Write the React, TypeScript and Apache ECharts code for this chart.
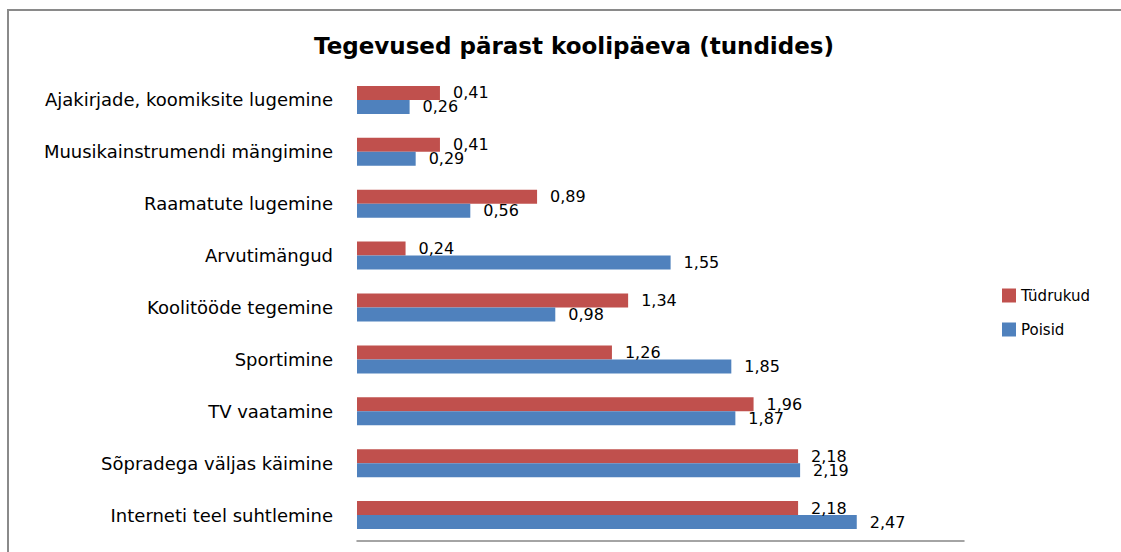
import React, { useEffect, useRef } from "react";
import * as echarts from "echarts";

const categories = [
  "Ajakirjade, koomiksite lugemine",
  "Muusikainstrumendi mängimine",
  "Raamatute lugemine",
  "Arvutimängud",
  "Koolitööde tegemine",
  "Sportimine",
  "TV vaatamine",
  "Sõpradega väljas käimine",
  "Interneti teel suhtlemine",
];
const tudrukud = [0.41, 0.41, 0.89, 0.24, 1.34, 1.26, 1.96, 2.18, 2.18];
const poisid = [0.26, 0.29, 0.56, 1.55, 0.98, 1.85, 1.87, 2.19, 2.47];
const titleText = "Tegevused pärast koolipäeva (tundides)";
const FONT = "DejaVu Sans";

export default function App() {
  const ref = useRef<HTMLDivElement>(null);
  useEffect(() => {
    const chart = echarts.init(ref.current!, null, { renderer: "svg" });
    const fmt = (p: any) => String(p.value.toFixed(2)).replace(".", ",");
    const label = {
      show: true,
      position: "right",
      distance: 13,
      color: "#000",
      fontSize: 16,
      fontFamily: FONT,
      formatter: fmt,
    };
    chart.setOption({
      animation: false,
      backgroundColor: "#fff",
      title: {
        text: titleText,
        left: 569,
        textAlign: "center",
        top: 29,
        textStyle: { fontFamily: FONT, fontSize: 23, fontWeight: "bold", color: "#000" },
      },
      legend: {
        orient: "vertical",
        left: 997,
        top: 283,
        itemWidth: 14,
        itemHeight: 14,
        itemGap: 19,
        icon: "rect",
        textStyle: { fontFamily: FONT, fontSize: 15, color: "#000" },
        data: ["Tüdrukud", "Poisid"],
      },
      graphic: [
        {
          type: "rect",
          shape: { x: 8, y: 10, width: 1200, height: 600 },
          style: { fill: "none", stroke: "#8a8a8a", lineWidth: 2 },
          silent: true,
        },
      ],
      grid: { left: 357, right: 157, top: 74, bottom: 11 },
      xAxis: {
        type: "value",
        min: 0,
        max: 3,
        axisLine: { show: true, lineStyle: { color: "#868686", width: 1.5 } },
        axisTick: { show: false },
        axisLabel: { show: false },
        splitLine: { show: false },
      },
      yAxis: {
        type: "category",
        inverse: true,
        data: categories,
        axisLine: { show: false },
        axisTick: { show: false },
        axisLabel: { margin: 24, color: "#000", fontSize: 18, fontFamily: FONT },
      },
      series: [
        {
          name: "Tüdrukud",
          type: "bar",
          data: tudrukud,
          itemStyle: { color: "#C0504D" },
          barWidth: 14,
          barGap: "0%",
          label,
        },
        {
          name: "Poisid",
          type: "bar",
          data: poisid,
          itemStyle: { color: "#4F81BD" },
          barWidth: 14,
          barGap: "0%",
          label,
        },
      ],
    });
    return () => chart.dispose();
  }, []);
  return (
    <div
      ref={ref}
      style={{ position: "fixed", left: 0, top: 0, width: 1121, height: 552 }}
    />
  );
}
